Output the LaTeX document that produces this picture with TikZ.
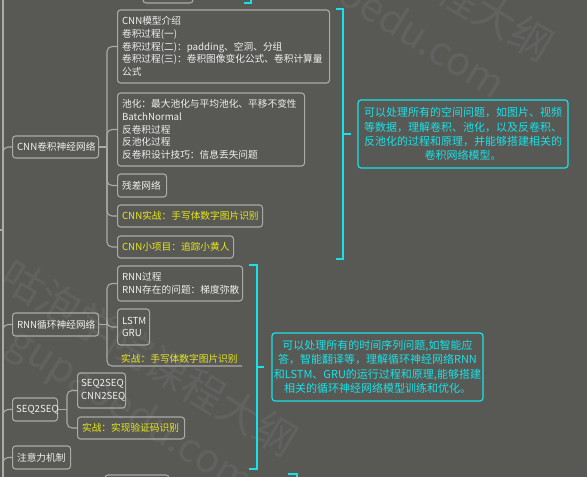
\documentclass[tikz,border=0pt]{standalone}
\usepackage{fontspec}
\setmainfont{Noto Sans CJK SC}
\definecolor{bg}{RGB}{88,89,85}
\definecolor{edge}{RGB}{170,171,167}
\definecolor{txt}{RGB}{240,240,240}
\definecolor{yel}{RGB}{232,232,24}
\definecolor{cy}{RGB}{24,226,232}
\tikzset{
  box/.style={draw=edge, line width=1.1pt, rounded corners=3pt, inner xsep=4.5pt, inner ysep=0pt,
    align=left, anchor=west, text=txt, font=\fontsize{9.7}{12.7}\selectfont},
  ybox/.style={box, text=yel},
  conn/.style={draw=edge, line width=1.1pt, rounded corners=5pt},
  brk/.style={draw=cy, line width=1.4pt},
  sumbox/.style={draw=cy, line width=1.2pt, rounded corners=3pt, text=cy, align=center,
    font=\fontsize{11}{14.4}\selectfont, inner sep=0pt},
  wmark/.style={text=white, opacity=0.06, anchor=west, inner sep=0pt, font=\fontsize{42}{42}\selectfont},
  wmlat/.style={wmark, font=\fontsize{40}{40}\selectfont},
}
\begin{document}
\begin{tikzpicture}[x=1pt, y=-1pt]
\fill[bg] (0,0) rectangle (587,477);
\useasboundingbox (0,0) rectangle (587,477);
\begin{scope}
\clip (0,0) rectangle (587,477);
% watermarks
\node[wmark, rotate=-31] (wm1) at (6,271) {咕泡学院课程大纲};
\node[wmlat, rotate=-32] (wm2) at (11,339) {gupaoedu.com};
\node[wmark, rotate=-31] (wm3) at (262,-124) {咕泡学院课程大纲};
\node[wmlat, rotate=-32] (wm4) at (262,-58) {gupaoedu.com};

% partial boxes at top and bottom
\draw[edge, line width=1.1pt, rounded corners=3pt] (143,-20) rectangle (193,3);
\draw[edge, line width=1.1pt, rounded corners=3pt] (105,475) rectangle (169,500);
\draw[brk] (244,3) -- (251,3) -- (251,-10);
\draw[brk] (288,474) -- (297,474) -- (297,490);

% trunk
\coordinate (ttop) at (3,-5);
\coordinate (tbot) at (3,485);
\draw[conn] (ttop) -- (tbot);
\draw[conn] (0,230) -- (3,230);

% branch nodes
\node[box, text width=77pt, minimum height=22pt] (cnn) at (12,147) {CNN卷积神经网络};
\node[box, text width=77pt, minimum height=23pt] (rnn) at (12,324.5) {RNN循环神经网络};
\node[box, inner xsep=3.5pt, text width=38pt, minimum height=23pt] (seq) at (12,409.5) {SEQ2SEQ};
\node[box, text width=49pt, minimum height=23pt] (att) at (12,457.5) {注意力机制};

\foreach \n in {cnn,rnn,seq,att}{
  \draw[conn] ([yshift=-12pt]\n.west -| ttop) |- (\n.west);
}

% CNN children
\node[box, text width=203pt, minimum height=73pt] (c1) at (117,46.5)
  {CNN模型介绍\\卷积过程(一)\\卷积过程(二)：padding、空洞、分组\\卷积过程(三)：卷积图像变化公式、卷积计算量\\公式};
\node[box, text width=178pt, minimum height=73pt] (c2) at (117,129.5)
  {池化：最大池化与平均池化、平移不变性\\BatchNormal\\反卷积过程\\反池化过程\\反卷积设计技巧：信息丢失问题};
\node[box, text width=40pt, minimum height=23pt] (c3) at (117,185.5) {残差网络};
\node[ybox, text width=136pt, minimum height=22pt] (c4) at (117,216) {CNN实战：手写体数字图片识别};
\node[ybox, text width=107pt, minimum height=22pt] (c5) at (117,247) {CNN小项目：追踪小黄人};
\coordinate (cj) at (107,147);
\draw[conn] (cnn.east) -- (cj);
\foreach \n in {c1,c2,c3,c4,c5}{ \draw[conn] (\n.west) -| (cj); }

% RNN children
\node[box, text width=116pt, minimum height=35pt] (r1) at (117,283.5) {RNN过程\\RNN存在的问题：梯度弥散};
\node[box, text width=23pt, minimum height=36pt] (r2) at (117,327) {LSTM\\GRU};
\node[anchor=west, inner sep=0pt, text=yel, font=\fontsize{9.7}{12.7}\selectfont] (r3) at (121,359) {实战：手写体数字图片识别};
\coordinate (r3end) at (242,366);
\coordinate (rj) at (107,324.5);
\draw[conn] (rnn.east) -- (rj);
\draw[conn] (r1.west) -| (rj);
\draw[conn] (r2.west) -| (rj);
\draw[conn] (rj) |- (r3end);

% SEQ2SEQ children
\node[box, inner xsep=3.5pt, text width=41pt, minimum height=35pt] (s1) at (77,390.5) {SEQ2SEQ\\CNN2SEQ};
\node[ybox, text width=98pt, minimum height=22pt] (s2) at (77,428) {实战：实现验证码识别};
\coordinate (sj) at (67,409.5);
\draw[conn] (seq.east) -- (sj);
\draw[conn] (s1.west) -| (sj);
\draw[conn] (s2.west) -| (sj);

% summaries
\node[sumbox, minimum width=210pt, minimum height=68pt] (sum1) at (463,134)
  {可以处理所有的空间问题，如图片、视频\\等数据，理解卷积、池化，以及反卷积、\\反池化的过程和原理，并能够搭建相关的\\卷积网络模型。};
\draw[brk] (336,9) -- (343,9) -- (343,259) -- (336,259);
\coordinate (b1m) at (343,134);
\draw[brk] (b1m) -- ([xshift=-6pt]sum1.west);

\node[sumbox, minimum width=211pt, minimum height=68pt] (sum2) at (377.5,367)
  {可以处理所有的时间序列问题,如智能应\\答，智能翻译等，理解循环神经网络RNN\\和LSTM、GRU的运行过程和原理,能够搭建\\相关的循环神经网络模型训练和优化。};
\draw[brk] (249,265) -- (257,265) -- (257,469) -- (249,469);
\coordinate (b2m) at (257,367);
\draw[brk] (b2m) -- ([xshift=-7pt]sum2.west);
\end{scope}
\end{tikzpicture}
\end{document}
